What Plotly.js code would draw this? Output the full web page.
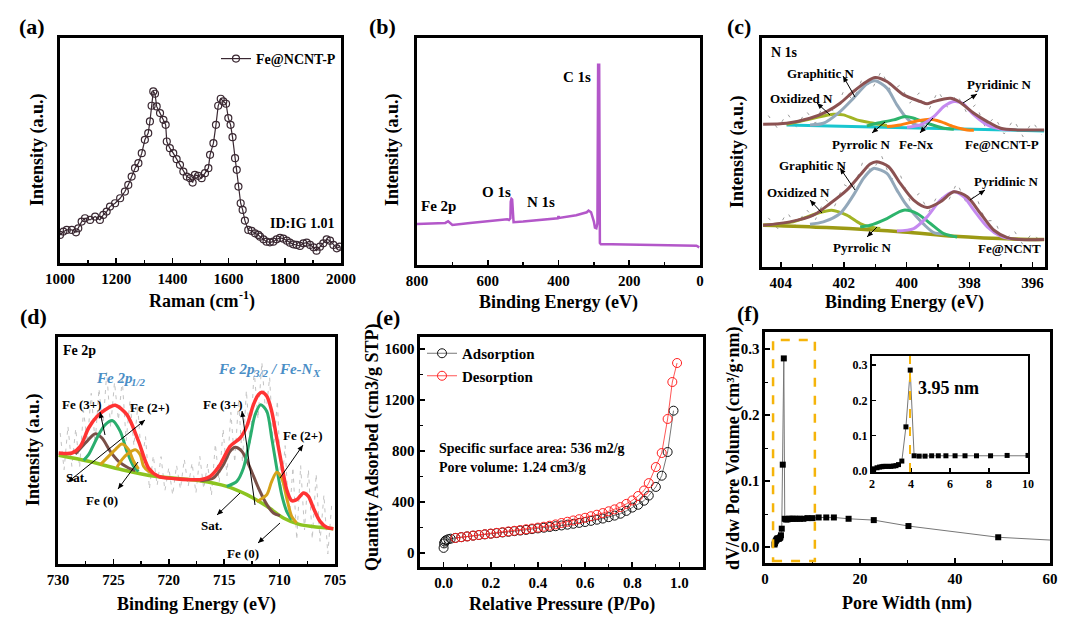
<!DOCTYPE html>
<html><head><meta charset="utf-8">
<script src="https://cdn.plot.ly/plotly-3.0.1.min.js"></script>
<style>html,body{margin:0;padding:0;background:#fff}#c{width:1080px;height:633px}</style>
</head><body><div id="c"></div>
<script>
// ---------- (a) Raman ----------
const ramanX = [1000,1012,1024,1042,1057,1065,1077,1089,1107,1125,1142,1154,1166,1178,1196,1214,1231,1243,1255,1267,1279,1291,1302,1314,1320,1326,1332,1338,1344,1356,1368,1376,1380,1391,1403,1415,1427,1439,1451,1463,1472,1480,1492,1504,1516,1528,1534,1546,1555,1563,1572,1581,1591,1599,1607,1614,1623,1629,1635,1643,1650,1658,1670,1682,1694,1706,1712,1724,1735,1747,1759,1771,1783,1795,1807,1818,1830,1842,1854,1866,1878,1890,1902,1913,1925,1937,1949,1961,1973,1985,1996];
const ramanY = [84,94,99,99,92,104,124,134,129,139,129,144,154,169,179,194,214,234,259,284,299,329,369,389,424,471,514,507,469,449,429,414,364,344,329,311,294,274,259,254,241,264,261,254,269,284,324,359,414,471,492,484,477,434,414,377,314,279,229,179,159,127,99,96,89,84,79,71,64,62,64,71,75,73,67,61,56,54,51,59,61,54,47,37,49,59,71,67,54,44,49];
const ramanTicks = [1000,1200,1400,1600,1800,2000];

// ---------- (b) XPS survey ----------
const surveyBE = [800,760,720,712,708,700,650,600,560,545,540,536,535,533,531,529,527,500,450,402,400,398,350,320,315,308,300,297,293,290,288,285,283,280,250,200,150,100,50,10,2];
const surveyI  = [123,124,126,131,128,120,126,131,136,137,135,140,190,198,196,170,128,130,135,140,146,141,149,158,163,158,130,112,110,125,600,600,66,62,62,61,60,60,59,58,53];
const surveyTicks = [800,600,400,200,0];

// ---------- (c) N 1s ----------
const nRawX = [404.4,404.1,403.8,403.5,403.2,402.9,402.6,402.3,402.0,401.7,401.4,401.1,400.8,400.5,400.2,399.9,399.6,399.3,399.0,398.7,398.4,398.1,397.8,397.5,397.2,396.9,396.6,396.3,396.0,395.7];
const nRawTopY = [453,414,460,418,467,430,497,462,527,499,566,532,587,525,545,490,521,469,527,478,517,463,486,418,449,398,441,390,435,395];
const nRawBotY = [147,115,164,120,173,142,203,180,247,231,313,285,333,262,275,198,220,164,217,192,252,191,215,138,139,73,111,67,102,72];
const nEnvTopX = [404.564,403.819,403.074,402.543,402.117,401.691,401.266,401.000,400.628,400.096,399.564,399.351,399.138,398.606,398.340,397.862,397.436,397.011,396.479,395.628];
const nEnvTopY = [427,430,445,465,490,525,555,567,555,515,495,488,495,505,495,460,435,415,410,410];
const nGraTopX = [403.074,402.649,402.117,401.691,401.266,401.000,400.628,400.309,400.043,399.777,399.351];
const nGraTopY = [425,430,465,505,547,557,535,485,450,428,418];
const nOxTopX = [403.819,402.968,402.330,402.011,401.585,401.053,400.628];
const nOxTopY = [427,445,457,455,440,430,423];
const nPyrTopX = [401.266,400.947,400.415,400.043,399.777,399.351,398.819,398.500];
const nPyrTopY = [422,430,440,450,445,430,415,412];
const nFeNxX = [400.628,400.202,399.670,399.245,398.926,398.500,398.074,397.862];
const nFeNxY = [420,425,437,442,435,420,410,409];
const nPydTopX = [399.990,399.564,399.138,398.819,398.500,398.234,397.862,397.436,397.011,396.691];
const nPydTopY = [418,425,450,480,495,490,455,425,413,410];
const nBaseTopX = [403.819,399.670,395.628];
const nBaseTopY = [425,416,407];
const nEnvBotX = [404.564,403.713,402.968,402.436,401.904,401.479,401.160,400.947,400.574,400.202,399.777,399.351,398.926,398.500,398.074,397.649,397.223,396.798,396.372,395.628];
const nEnvBotY = [125,135,155,190,230,275,308,315,300,250,200,178,195,225,210,160,110,88,82,82];
const nGraBotX = [403.074,402.649,402.117,401.691,401.372,401.106,401.000,400.628,400.309,400.043,399.777,399.457,399.138,398.819];
const nGraBotY = [128,135,160,215,265,292,295,280,230,190,160,128,103,99];
const nOxBotX = [404.564,403.606,402.862,402.383,401.904,401.479,401.160,400.840];
const nOxBotY = [125,135,160,170,155,130,120,115];
const nPyrBotX = [401.479,401.160,400.628,400.096,399.670,399.245,398.819,398.394];
const nPyrBotY = [120,125,145,170,160,130,100,90];
const nPydBotX = [400.309,399.777,399.351,398.926,398.500,398.181,397.862,397.436,397.011,396.691];
const nPydBotY = [108,115,150,200,225,210,170,120,92,84];
const nBaseBotX = [404.564,402.543,400.096,398.500,396.372,395.628];
const nBaseBotY = [125,118,105,92,83,82];
const nTicks = [404,402,400,398,396];

// ---------- (d) Fe 2p ----------
const feRawX = [729.8,729.45,729.1,728.75,728.4,728.05,727.7,727.35,727.0,726.65,726.3,725.95,725.6,725.25,724.9,724.55,724.2,723.85,723.5,723.15,722.8,722.45,722.1,721.75,721.4,721.05,720.7,720.35,720.0,719.65,719.3,718.95,718.6,718.25,717.9,717.55,717.2,716.85,716.5,716.15,715.8,715.45,715.1,714.75,714.4,714.05,713.7,713.35,713.0,712.65,712.3,711.95,711.6,711.25,710.9,710.55,710.2,709.85,709.5,709.15,708.8,708.45,708.1,707.75,707.4,707.05,706.7,706.35,706.0,705.65,705.3];
const feRawY = [393,283,413,293,406,290,460,365,512,363,526,408,575,410,545,432,553,370,490,355,473,305,382,225,325,236,322,220,289,207,296,225,314,233,303,213,323,226,300,206,360,245,405,265,455,305,492,305,520,355,582,435,605,447,560,340,490,215,355,125,290,73,295,102,283,75,270,68,207,30,177];
const feEnvX = [729.94,728.74,727.99,727.24,726.48,725.73,724.83,723.78,722.73,721.83,720.93,719.42,718.07,717.17,716.27,715.37,714.47,713.56,712.96,712.36,711.91,711.61,711.15,710.71,710.26,709.81,709.36,708.91,708.46,707.85,707.40,706.95,706.35,705.75,705.15];
const feEnvY = [333,333,353,408,443,463,476,448,368,288,263,256,253,253,263,298,353,378,413,478,508,515,503,458,378,298,223,190,193,213,203,168,128,110,106];
const feBaseX = [729.94,727.24,724.23,721.23,717.17,714.77,712.96,711.15,709.66,708.16,706.35,705.15];
const feBaseY = [326,308,283,263,250,233,208,173,138,118,110,106];
const fe3p1X = [727.69,727.24,726.33,725.73,725.07,724.38,723.78,723.18,722.73];
const fe3p1Y = [311,328,388,418,430,398,338,293,278];
const feSat1X = [728.44,727.39,726.63,726.03,725.28,724.53,723.63,723.03];
const feSat1Y = [330,368,391,378,338,308,288,280];
const fe2p1X = [726.18,725.73,724.83,724.23,723.63,723.18,722.73];
const fe2p1Y = [298,313,343,360,343,308,285];
const fe0p1X = [724.68,724.23,723.63,723.03,722.58,722.28,721.83,721.38];
const fe0p1Y = [290,313,333,343,328,293,278,270];
const fe3p3X = [714.77,713.86,713.26,712.66,712.21,711.70,711.15,710.71,710.26,709.81,709.36,708.91];
const fe3p3Y = [233,248,288,378,448,478,458,378,288,208,158,133];
const feSat3X = [717.17,716.57,715.97,715.07,714.47,714.01,713.41,712.66,711.91,711.15,710.56,709.96];
const feSat3Y = [250,253,258,298,338,350,338,288,228,178,153,145];
const fe2p3X = [712.06,711.76,711.15,710.71,710.26,709.81,709.36,708.91,708.46];
const fe2p3Y = [188,193,208,248,275,258,198,143,123];
const feTicks = [730,725,720,715,710,705];

// ---------- (e) BET isotherm ----------
const adsP = [0.0,0.002,0.005,0.01,0.02,0.03,0.05,0.075,0.1,0.125,0.15,0.175,0.2,0.225,0.25,0.275,0.3,0.325,0.35,0.375,0.4,0.425,0.45,0.475,0.5,0.525,0.55,0.575,0.6,0.625,0.65,0.675,0.7,0.725,0.75,0.775,0.8,0.825,0.85,0.87,0.9,0.925,0.95,0.975];
const adsQ = [40,75,90,100,108,112,118,124,130,136,141,146,151,156,161,166,171,176,181,187,193,198,204,210,216,222,229,236,243,252,261,270,281,293,308,330,356,378,410,450,518,606,792,1116];
const desP = [0.05,0.075,0.1,0.125,0.15,0.175,0.2,0.225,0.25,0.275,0.3,0.325,0.35,0.375,0.4,0.425,0.45,0.475,0.5,0.525,0.55,0.575,0.6,0.625,0.65,0.675,0.7,0.725,0.75,0.775,0.8,0.825,0.85,0.87,0.9,0.925,0.95,0.97,0.99];
const desQ = [118,124,130,136,141,147,152,158,163,169,174,180,186,192,199,206,214,224,235,245,255,265,276,288,300,313,327,342,360,385,412,447,490,548,674,784,1051,1341,1490];

// ---------- (f) pore size distribution ----------
const poreW = [2.0,2.09,2.26,2.39,2.51,2.60,2.71,2.85,2.97,3.11,3.23,3.36,3.53,3.74,3.96,4.16,4.42,4.72,5.06,5.40,5.79,6.26,6.77,7.36,8.08,8.93,10.0,11.3,12.9,14.5,17.6,22.9,30.2,49.1,62];
const poreV = [0.004,0.006,0.009,0.011,0.012,0.013,0.013,0.013,0.013,0.014,0.015,0.018,0.028,0.125,0.286,0.043,0.042,0.042,0.043,0.043,0.043,0.043,0.043,0.043,0.043,0.044,0.044,0.045,0.045,0.045,0.043,0.041,0.032,0.015,0.010];
const peakWidth = 3.95;
const zoomBox = [1.7, 10.5, -0.021, 0.314];

// ================= drawing =================
const FONT = 'Liberation Serif, Times New Roman, serif';
const W = 1080, H = 633;
const px = x => x / W, py = y => 1 - y / H;

function ln(x, y, color, xa, ya, width, extra) {
  return Object.assign({x, y, type: 'scatter', mode: 'lines', xaxis: xa, yaxis: ya,
    line: {color, width: width || 3, shape: 'spline', smoothing: 0.8}, showlegend: false, hoverinfo: 'skip'}, extra || {});
}
function raw(x, y, xa, ya, dash, color) {
  return {x, y, type: 'scatter', mode: 'lines', xaxis: xa, yaxis: ya, showlegend: false, hoverinfo: 'skip',
    line: {color: color || '#b8b8b8', width: 1, dash: dash}};
}

const C = {env: '#8B5252', gra: '#93A8BA', ox: '#A2B424', pyr: '#2DB46C', fenx: '#FF7F0E', pyd: '#C58AF0', cyan: '#19C6CF', olive: '#9C9A14'};
const D = {red: '#FF3333', green: '#2AAE6E', brown: '#7A5048', gold: '#D6A21A', base: '#8CC420'};

const traces = [
  {x: ramanX, y: ramanY, type: 'scatter', mode: 'lines+markers', name: 'Fe@NCNT-P', xaxis: 'x', yaxis: 'y',
   line: {color: '#3a2832', width: 1.2}, marker: {symbol: 'circle-open', size: 7, color: '#3a2832', line: {width: 1.2}}, legend: 'legend'},
  {x: surveyBE, y: surveyI, type: 'scatter', mode: 'lines', xaxis: 'x2', yaxis: 'y2', line: {color: '#B357C9', width: 2.5}, showlegend: false},
  raw(nRawX, nRawTopY, 'x3', 'y3', '3px,9px', '#9a9a9a'),
  raw(nRawX, nRawBotY, 'x3', 'y3', '3px,9px', '#9a9a9a'),
  ln(nBaseTopX, nBaseTopY, C.cyan, 'x3', 'y3'),
  ln(nOxTopX, nOxTopY, C.ox, 'x3', 'y3'),
  ln(nGraTopX, nGraTopY, C.gra, 'x3', 'y3'),
  ln(nPyrTopX, nPyrTopY, C.pyr, 'x3', 'y3'),
  ln(nFeNxX, nFeNxY, C.fenx, 'x3', 'y3'),
  ln(nPydTopX, nPydTopY, C.pyd, 'x3', 'y3'),
  ln(nEnvTopX, nEnvTopY, C.env, 'x3', 'y3'),
  ln(nBaseBotX, nBaseBotY, C.olive, 'x3', 'y3', 3.5),
  ln(nOxBotX, nOxBotY, C.ox, 'x3', 'y3'),
  ln(nGraBotX, nGraBotY, C.gra, 'x3', 'y3'),
  ln(nPyrBotX, nPyrBotY, C.pyr, 'x3', 'y3'),
  ln(nPydBotX, nPydBotY, C.pyd, 'x3', 'y3'),
  ln(nEnvBotX, nEnvBotY, C.env, 'x3', 'y3'),
  raw(feRawX, feRawY, 'x4', 'y4', '4px,5px', '#c4c4c4'),
  ln(feBaseX, feBaseY, D.base, 'x4', 'y4', 3.5),
  ln(feSat1X, feSat1Y, D.brown, 'x4', 'y4'),
  ln(fe3p1X, fe3p1Y, D.green, 'x4', 'y4'),
  ln(fe2p1X, fe2p1Y, D.gold, 'x4', 'y4'),
  ln(fe0p1X, fe0p1Y, D.gold, 'x4', 'y4'),
  ln(feSat3X, feSat3Y, D.brown, 'x4', 'y4'),
  ln(fe3p3X, fe3p3Y, D.green, 'x4', 'y4'),
  ln(fe2p3X, fe2p3Y, D.gold, 'x4', 'y4'),
  ln(feEnvX, feEnvY, D.red, 'x4', 'y4', 3.5),
  {x: adsP, y: adsQ, type: 'scatter', mode: 'lines+markers', name: 'Adsorption', xaxis: 'x5', yaxis: 'y5', legend: 'legend2',
   line: {color: '#555', width: 0.8}, marker: {symbol: 'circle-open', size: 9, color: '#111', line: {width: 1}}},
  {x: desP, y: desQ, type: 'scatter', mode: 'lines+markers', name: 'Desorption', xaxis: 'x5', yaxis: 'y5', legend: 'legend2',
   line: {color: '#FF2A2A', width: 0.8}, marker: {symbol: 'circle-open', size: 9, color: '#FF2020', line: {width: 1}}},
  {x: poreW, y: poreV, type: 'scatter', mode: 'lines+markers', xaxis: 'x6', yaxis: 'y6', showlegend: false,
   line: {color: '#777', width: 1}, marker: {symbol: 'square', size: 6, color: '#000'}},
  {x: poreW, y: poreV, type: 'scatter', mode: 'lines+markers', xaxis: 'x7', yaxis: 'y7', showlegend: false,
   line: {color: '#777', width: 1}, marker: {symbol: 'square', size: 5, color: '#000'}}
];

const tf = (s) => ({family: FONT, size: s || 15, color: '#000', weight: 'bold'});
function axis(d, anchor, range, o) {
  return Object.assign({domain: d, anchor, range, showline: true, mirror: true, linecolor: '#000', linewidth: 2.6,
    ticks: 'inside', ticklen: 5, tickwidth: 1.6, tickcolor: '#000', showgrid: false, zeroline: false,
    tickfont: tf(15), fixedrange: true}, o || {});
}
const noY = {ticks: '', showticklabels: false};
const mnr = (dt) => ({ticks: 'inside', ticklen: 3, tickwidth: 1.3, tickcolor: '#000', dtick: dt});

const layout = {
  width: W, height: H, margin: {l: 0, r: 0, t: 0, b: 0}, paper_bgcolor: '#fff', plot_bgcolor: 'rgba(0,0,0,0)',
  showlegend: true,
  xaxis:  axis([px(60), px(341)], 'y', [1000, 2000], {tickvals: ramanTicks, minor: mnr(100)}),
  yaxis:  axis([py(263), py(38)], 'x', [0, 674], noY),
  xaxis2: axis([px(417), px(700)], 'y2', [800, 0], {tickvals: surveyTicks, minor: mnr(100)}),
  yaxis2: axis([py(265), py(38)], 'x2', [0, 680], noY),
  xaxis3: axis([px(762), px(1045)], 'y3', [404.6, 395.6], {tickvals: nTicks, minor: mnr(1)}),
  yaxis3: axis([py(267), py(38)], 'x3', [0, 685], noY),
  xaxis4: axis([px(58), px(335)], 'y4', [730, 705], {tickvals: feTicks, minor: mnr(2.5)}),
  yaxis4: axis([py(564), py(337)], 'x4', [0, 681], noY),
  xaxis5: axis([px(420), px(703)], 'y5', [-0.1, 1.1], {dtick: 0.2, tickformat: '.1f', minor: mnr(0.1)}),
  yaxis5: axis([py(567), py(337)], 'x5', [-110, 1694], {dtick: 400, minor: mnr(200)}),
  xaxis6: axis([px(765), px(1050)], 'y6', [0, 60], {dtick: 20, minor: mnr(10)}),
  yaxis6: axis([py(563), py(332)], 'x6', [-0.024, 0.326], {dtick: 0.1, tickformat: '.1f', minor: mnr(0.05)}),
  xaxis7: axis([px(872), px(1028)], 'y7', [2, 10], {dtick: 2, linewidth: 2, tickfont: tf(12), ticklen: 4}),
  yaxis7: axis([py(472), py(356)], 'x7', [-0.003, 0.326], {dtick: 0.1, tickformat: '.1f', linewidth: 2, tickfont: tf(12), ticklen: 4}),
  legend: {x: px(216), y: py(43), xanchor: 'left', yanchor: 'top', bgcolor: 'rgba(0,0,0,0)', font: tf(14), itemwidth: 30, tracegroupgap: 0},
  legend2: {x: px(422), y: py(337), xanchor: 'left', yanchor: 'top', bgcolor: 'rgba(0,0,0,0)', font: tf(15), itemwidth: 30, tracegroupgap: 0},
  shapes: [
    {type: 'rect', xref: 'x6', yref: 'y6', x0: zoomBox[0], x1: zoomBox[1], y0: zoomBox[2], y1: zoomBox[3],
     line: {color: '#F5B40A', width: 2.5, dash: 'dash'}},
    {type: 'line', xref: 'x7', yref: 'y7', x0: peakWidth, x1: peakWidth, y0: -0.003, y1: 0.326,
     line: {color: '#F5B40A', width: 2, dash: 'dash'}}
  ],
  annotations: []
};

const A = layout.annotations, S = layout.shapes;
function lab(text, x, y, size, o) {
  A.push(Object.assign({text, x: px(x), y: py(y), xref: 'paper', yref: 'paper', showarrow: false,
    xanchor: 'center', yanchor: 'middle', font: tf(size)}, o || {}));
}
function head(hx, hy, tx, ty) {
  const dx = hx - tx, dy = hy - ty, L = Math.hypot(dx, dy), ux = dx / L, uy = dy / L;
  const bx = hx - ux * 6, by = hy - uy * 6, nx = -uy * 2.6, ny = ux * 2.6;
  S.push({type: 'path', xref: 'paper', yref: 'paper', fillcolor: '#000', line: {width: 0},
    path: `M ${px(hx)},${py(hy)} L ${px(bx + nx)},${py(by + ny)} L ${px(bx - nx)},${py(by - ny)} Z`});
}
function arr(hx, hy, tx, ty, both) {
  S.push({type: 'line', xref: 'paper', yref: 'paper', x0: px(tx), y0: py(ty), x1: px(hx), y1: py(hy), line: {color: '#000', width: 1}});
  head(hx, hy, tx, ty);
  if (both) head(tx, ty, hx, hy);
}
// panel letters
lab('(a)', 32, 27, 22); lab('(b)', 382, 27, 22); lab('(c)', 739, 27, 22);
lab('(d)', 33, 316, 22); lab('(e)', 388, 317, 22); lab('(f)', 748, 313, 22);
// axis titles
const L = {xanchor: 'left'};
lab('Raman (cm', 147, 301, 18, L); lab('-1', 236.5, 295, 12, L); lab(')', 246.5, 301, 18, L);
lab('Binding Energy (eV)', 558, 302, 18);
lab('Binding Energy (eV)', 905, 302, 18);
lab('Binding Energy (eV)', 196, 604, 18);
lab('Relative Pressure (P/Po)', 562, 604, 18);
lab('Pore Width (nm)', 907, 603, 18);
lab('Intensity (a.u.)', 37, 150, 18, {textangle: -90});
lab('Intensity (a.u.)', 392, 150, 18, {textangle: -90});
lab('Intensity (a.u.)', 737, 152, 18, {textangle: -90});
lab('Intensity (a.u.)', 33, 450, 18, {textangle: -90});
lab('Quantity Adsorbed (cm3/g STP)', 372, 447, 18, {textangle: -90});
lab('dV/dw Pore Volume (cm\u00B3/g\u00B7nm)', 733, 448, 18, {textangle: -90});
// (a)
lab('ID:IG 1.01', 302, 223, 14);
// (b)
lab('C 1s', 577, 77, 15); lab('O 1s', 496, 192, 15); lab('N 1s', 541, 202, 15); lab('Fe 2p', 438, 206, 15);
// (c)
lab('N 1s', 784, 52, 14);
lab('Graphitic N', 820, 73, 13); lab('Oxidized N', 801, 98, 13); lab('Pyridinic N', 999, 84, 13);
lab('Pyrrolic N', 861, 144, 13); lab('Fe-Nx', 916, 144, 13); lab('Fe@NCNT-P', 1002, 144, 13);
lab('Graphitic N', 812, 166, 13); lab('Oxidized N', 798, 192, 13); lab('Pyridinic N', 1006, 182, 13);
lab('Pyrrolic N', 862, 247, 13); lab('Fe@NCNT', 1009, 249, 13);
arr(843, 76, 855, 97); arr(817, 103, 830, 115); arr(977, 94, 963, 103);
arr(872, 133, 885, 122); arr(920, 133, 933, 118);
arr(840, 168, 855, 190); arr(810, 200, 822, 213); arr(985, 190, 970, 200); arr(867, 237, 877, 227);
// (d)
lab('Fe 2p', 79, 350, 14);
const blue = {family: FONT, size: 15, color: '#4A8EC6', weight: 'bold', style: 'italic'};
const blueS = Object.assign({}, blue, {size: 11});
lab('Fe 2p', 94, 378, 15, {font: blue, xanchor: 'left'}); lab('1/2', 129.4, 382, 11, {font: blueS, xanchor: 'left'});
lab('Fe 2p', 216, 369, 15, {font: blue, xanchor: 'left'}); lab('3/2', 251.4, 373, 11, {font: blueS, xanchor: 'left'});
lab('/ Fe-N', 269.2, 369, 15, {font: blue, xanchor: 'left'}); lab('X', 309.6, 373, 11, {font: blueS, xanchor: 'left'});
lab('Fe (3+)', 82, 404, 13); lab('Fe (2+)', 150, 407, 13); lab('Sat.', 76, 478, 13); lab('Fe (0)', 102, 500, 13);
lab('Fe (3+)', 223, 404, 13); lab('Fe (2+)', 303, 435, 13); lab('Sat.', 211, 525, 13); lab('Fe (0)', 243, 553, 13);
arr(100, 412, 105, 435); arr(68, 482, 145, 420, true); arr(118, 489, 138, 462);
arr(242, 411, 255, 505); arr(217, 515, 240, 493); arr(303, 445, 280, 478); arr(258, 543, 280, 523);
// (e)
lab('Specific surface area: 536 m2/g', 437, 448, 14, {xanchor: 'left'});
lab('Pore volume: 1.24 cm3/g', 437, 467, 14, {xanchor: 'left'});
// (f)
lab('3.95 nm', 948, 388, 18);

Plotly.newPlot('c', traces, layout, {staticPlot: true, displayModeBar: false});
</script></body></html>
